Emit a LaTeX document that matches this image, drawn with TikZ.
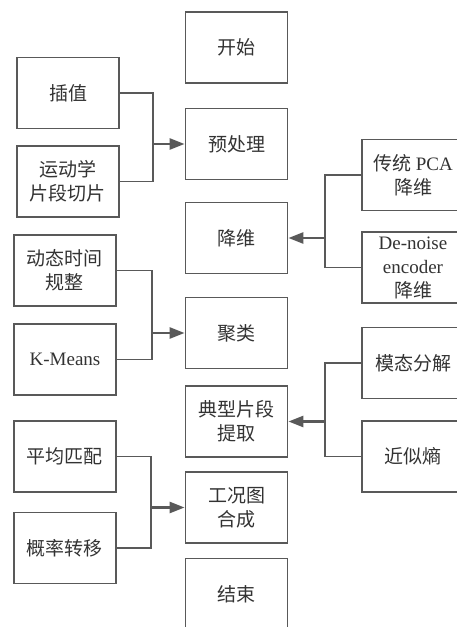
\documentclass[tikz,border=0pt]{standalone}
\usepackage{fontspec}
\setmainfont{Liberation Serif}
\newfontfamily\cjk{Noto Sans CJK SC}
\usetikzlibrary{arrows.meta}
\definecolor{linegray}{HTML}{595959}
\definecolor{textgray}{HTML}{333333}
\begin{document}
\begin{tikzpicture}[x=1pt,y=-1pt,
  box/.style={draw=linegray, line width=1.8pt, minimum width=102pt, minimum height=71pt,
    inner sep=0pt, align=center, text=textgray, font=\fontsize{19}{24}\selectfont},
  conn/.style={draw=linegray, line width=1.8pt},
  arr/.style={draw=linegray, line width=2.5pt, -{Triangle[length=15pt,width=11pt]}}]
\fill[white] (0,0) rectangle (457,627);
\useasboundingbox (0,0) rectangle (457,627);
% centre column
\node[box] (start) at (236.5,47.5) {\cjk 开始};
\node[box] (pre)   at (236.5,144) {\cjk 预处理};
\node[box] (dim)   at (236.5,238) {\cjk 降维};
\node[box] (clu)   at (236.5,333) {\cjk 聚类};
\node[box] (ext)   at (236.5,421.5) {\cjk 典型片段\\\cjk 提取};
\node[box] (syn)   at (236.5,507.5) {\cjk 工况图\\\cjk 合成};
\node[box] (end)   at (236.5,594) {\cjk 结束};
% left column
\node[box] (interp) at (68,93) {\cjk 插值};
\node[box] (seg)    at (68,181.5) {\cjk 运动学\\\cjk 片段切片};
\node[box] (dtw)    at (65,270.5) {\cjk 动态时间\\\cjk 规整};
\node[box] (km)     at (65,359.5) {K-Means};
\node[box] (avg)    at (65,456.5) {\cjk 平均匹配};
\node[box] (prob)   at (65,548) {\cjk 概率转移};
% right column
\node[box] (pca)  at (413,175) {{\cjk 传统} PCA\\\cjk 降维};
\node[box] (dae)  at (413,267.5) {De-noise\\encoder\\\cjk 降维};
\node[box] (emd)  at (413,363) {\cjk 模态分解};
\node[box] (apen) at (413,456.5) {\cjk 近似熵};
% junctions
\coordinate (j1) at (153,144);
\coordinate (j2) at (152,333);
\coordinate (j3) at (151,507.5);
\coordinate (j4) at (325,238);
\coordinate (j5) at (325,421.5);
% connectors
\draw[conn] (interp.east) -| (j1) |- (seg.east);
\draw[arr] (j1) -- (pre.west);
\draw[conn] (dtw.east) -| (j2) |- (km.east);
\draw[arr] (j2) -- (clu.west);
\draw[conn] (avg.east) -| (j3) |- (prob.east);
\draw[arr] (j3) -- (syn.west);
\draw[conn] (pca.west) -| (j4) |- (dae.west);
\draw[arr] (j4) -- (dim.east);
\draw[conn] (emd.west) -| (j5) |- (apen.west);
\draw[arr] (j5) -- (ext.east);
\end{tikzpicture}
\end{document}
